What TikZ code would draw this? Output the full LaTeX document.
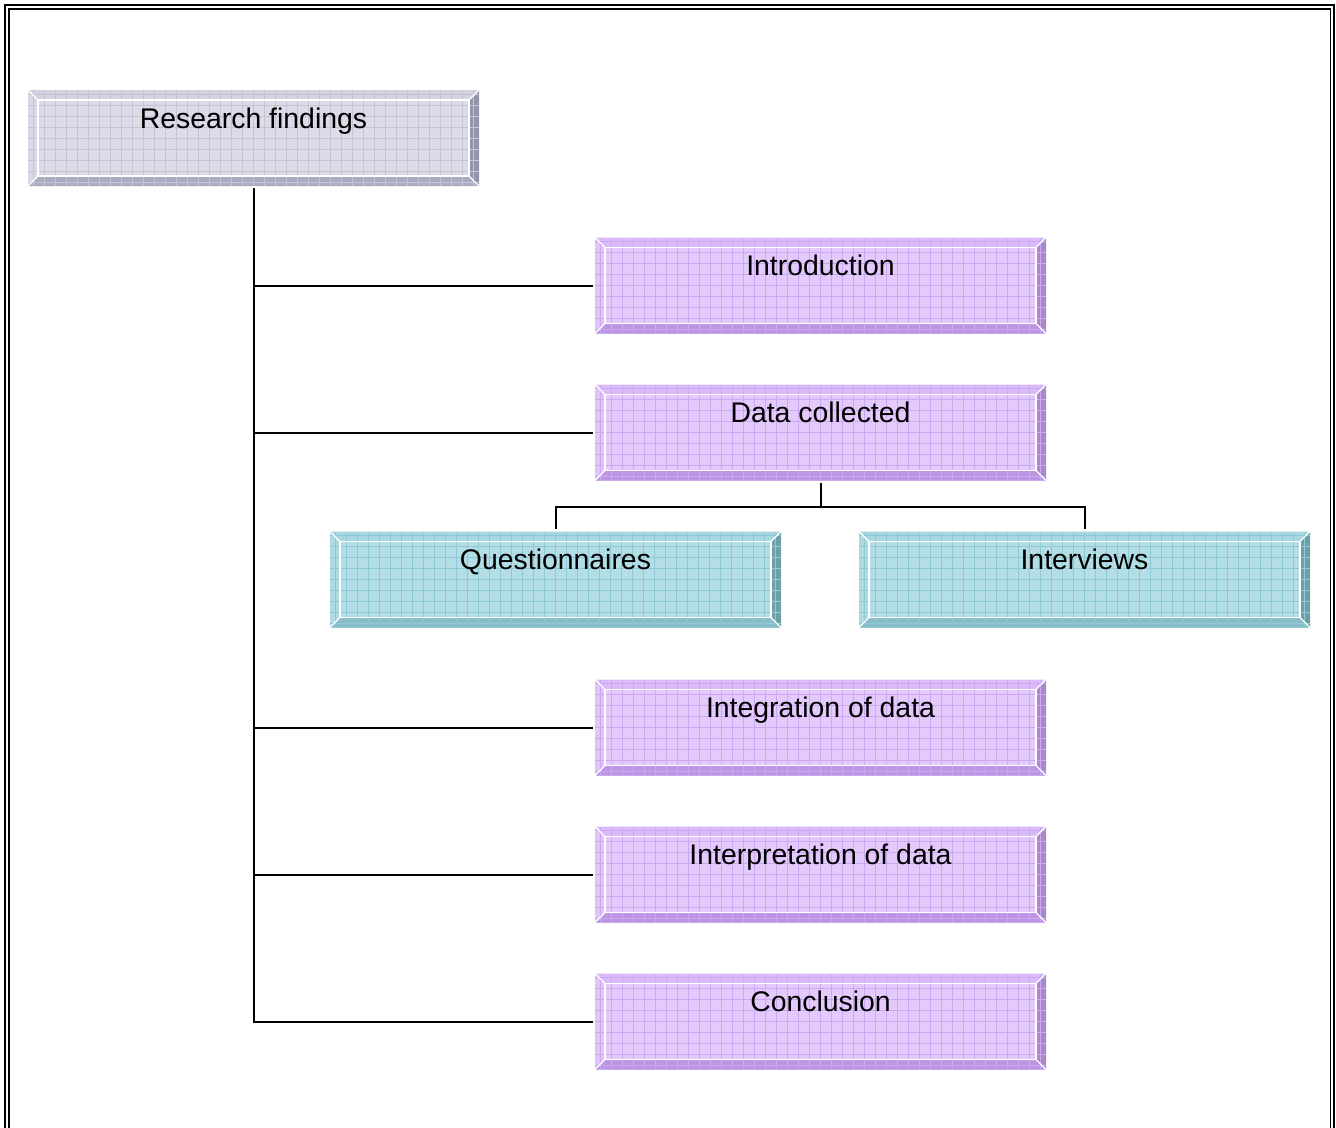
\documentclass[tikz,border=0pt]{standalone}
\usepackage{fontspec}
\setmainfont{Liberation Sans}
\usetikzlibrary{calc}

% colour sets for the three kinds of bevelled boxes
\definecolor{gyface}{HTML}{DCDCE8}
\definecolor{gygrid}{HTML}{C4C4D6}
\definecolor{gytop}{HTML}{D2D2E0}
\definecolor{gyleft}{HTML}{D8D8E6}
\definecolor{gybot}{HTML}{ABABC0}
\definecolor{gyright}{HTML}{9494AC}

\definecolor{puface}{HTML}{E4CAFC}
\definecolor{pugrid}{HTML}{CDA8F2}
\definecolor{putop}{HTML}{DABAF8}
\definecolor{puleft}{HTML}{E0C4FA}
\definecolor{pubot}{HTML}{BC96E4}
\definecolor{puright}{HTML}{A88AC8}

\definecolor{tlface}{HTML}{B4DEE6}
\definecolor{tlgrid}{HTML}{8ECAD6}
\definecolor{tltop}{HTML}{A8D6E0}
\definecolor{tlleft}{HTML}{B0DAE2}
\definecolor{tlbot}{HTML}{88BCC8}
\definecolor{tlright}{HTML}{6E9EA8}

\tikzset{
  px/.style={x=0.75pt, y=-0.75pt},
  bevelbox/.style={
    minimum width=338.25pt, minimum height=72pt,
    inner sep=0pt, outer sep=0pt, draw=none, fill=#1face,
    path picture={
      \coordinate (bb-nw) at (path picture bounding box.north west);
      \coordinate (bb-ne) at (path picture bounding box.north east);
      \coordinate (bb-sw) at (path picture bounding box.south west);
      \coordinate (bb-se) at (path picture bounding box.south east);
      \coordinate (bb-inw) at ($(bb-nw)+(7.5pt,-7.5pt)$);
      \coordinate (bb-ine) at ($(bb-ne)+(-7.5pt,-7.5pt)$);
      \coordinate (bb-isw) at ($(bb-sw)+(7.5pt,7.5pt)$);
      \coordinate (bb-ise) at ($(bb-se)+(-7.5pt,7.5pt)$);
      \fill[#1top] (bb-nw) -- (bb-ne) -- (bb-ine) -- (bb-inw) -- cycle;
      \fill[#1left] (bb-nw) -- (bb-inw) -- (bb-isw) -- (bb-sw) -- cycle;
      \fill[#1right] (bb-ne) -- (bb-se) -- (bb-ise) -- (bb-ine) -- cycle;
      \fill[#1bot] (bb-sw) -- (bb-isw) -- (bb-ise) -- (bb-se) -- cycle;
      \draw[#1grid, line width=0.6pt] (bb-nw) grid[step=8.25pt] (bb-se);
      \draw[white, line width=1.3pt] (bb-inw) rectangle (bb-ise);
      \draw[white, line width=0.9pt]
        (bb-nw) -- (bb-inw) (bb-ne) -- (bb-ine)
        (bb-sw) -- (bb-isw) (bb-se) -- (bb-ise);
    }},
  boxtext/.style={font=\fontsize{21.3}{25}\selectfont, text=black,
    inner sep=0pt, anchor=base, yshift=-28.5pt},
  link/.style={draw=black, line width=1.5pt},
}

\begin{document}
\begin{tikzpicture}[px]
\useasboundingbox (0,0) rectangle (1336,1128);

% double page frame, open at the bottom
\draw[line width=2pt] (5,1140) -- (5,5) -- (1334,5) -- (1334,1140);
\draw[line width=1.1pt] (9,1140) -- (9,9) -- (1330.5,9) -- (1330.5,1140);

% boxes
\node[bevelbox=gy] (r)      at (253.5,138)   {};
\node[bevelbox=pu] (intro)  at (820.5,285.5) {};
\node[bevelbox=pu] (data)   at (820.5,432.5) {};
\node[bevelbox=tl] (quest)  at (555.5,579.5) {};
\node[bevelbox=tl] (interv) at (1084.5,579.5) {};
\node[bevelbox=pu] (integ)  at (820.5,727.5) {};
\node[bevelbox=pu] (interp) at (820.5,874.5) {};
\node[bevelbox=pu] (concl)  at (820.5,1021.5) {};

% labels, set on a common baseline in the upper part of each box
\node[boxtext] (t-r)      at (r.north)      {Research findings};
\node[boxtext] (t-intro)  at (intro.north)  {Introduction};
\node[boxtext] (t-data)   at (data.north)   {Data collected};
\node[boxtext] (t-quest)  at (quest.north)  {Questionnaires};
\node[boxtext] (t-interv) at (interv.north) {Interviews};
\node[boxtext] (t-integ)  at (integ.north)  {Integration of data};
\node[boxtext] (t-interp) at (interp.north) {Interpretation of data};
\node[boxtext] (t-concl)  at (concl.north)  {Conclusion};

% trunk with branches to the main sections
\draw[link, shorten <=1.5pt, shorten >=1.5pt]
  (r.south) -- (r.south |- concl.west) -- (concl.west);
\foreach \n in {intro, data, integ, interp}
  \draw[link, shorten >=1.5pt] (r.south |- \n.west) -- (\n.west);

% split of the data box into its two sources
\coordinate (bus) at (820.5,507);
\draw[link, shorten <=2pt] (data.south) -- (bus);
\draw[link, shorten <=2pt, shorten >=2pt]
  (quest.north) -- (quest.north |- bus) -- (interv.north |- bus) -- (interv.north);
\end{tikzpicture}
\end{document}
